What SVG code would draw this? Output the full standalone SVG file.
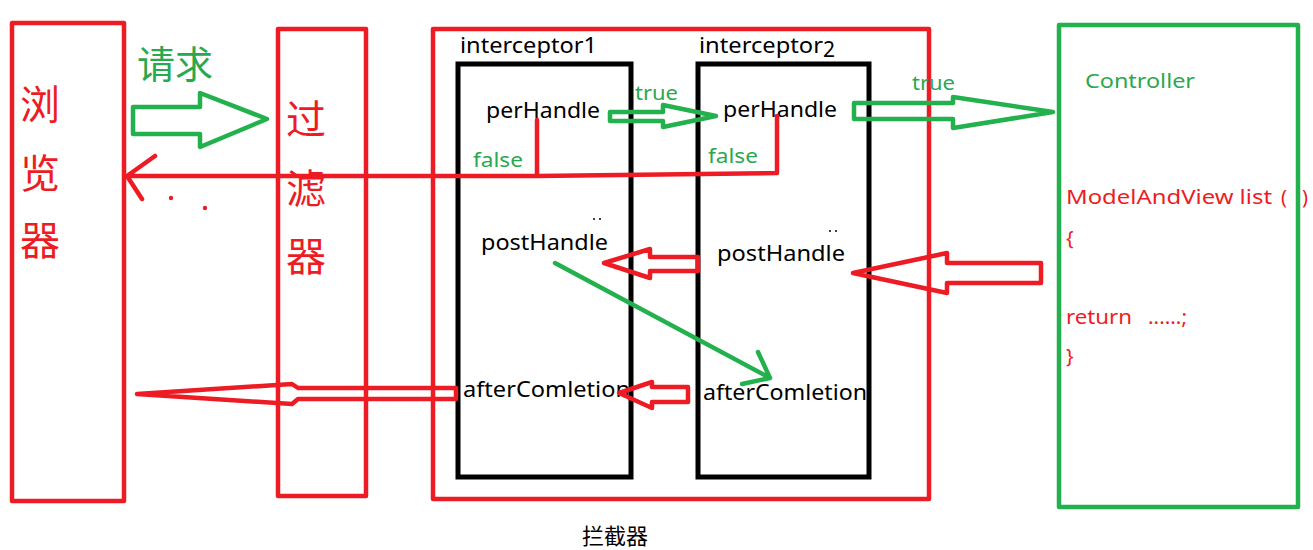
<svg xmlns="http://www.w3.org/2000/svg" width="1313" height="550" viewBox="0 0 1313 550">
<style>
.red{fill:none;stroke:#ED1C24;stroke-width:4.5;stroke-linejoin:round;stroke-linecap:round}
.grn{fill:none;stroke:#22B14C;stroke-width:4.5;stroke-linejoin:round;stroke-linecap:round}
.blk{fill:none;stroke:#000;stroke-width:5}
.t{font-family:"Noto Sans","Liberation Sans",sans-serif;font-size:21px;fill:#000}
.tg{font-family:"Noto Sans","Liberation Sans",sans-serif;font-size:20px;fill:#2aa84f}
.tr{font-family:"Noto Sans","Liberation Sans",sans-serif;font-size:20px;fill:#ED1C24}
.cjk{font-family:"Noto Sans CJK SC",sans-serif}
</style>
<rect width="1313" height="550" fill="#fff"/>
<g id="browser">
<rect class="red" x="12" y="23" width="112" height="478"/>
<text class="cjk" x="20" y="119" font-size="40" fill="#ED1C24">浏</text>
<text class="cjk" x="20" y="188" font-size="40" fill="#ED1C24">览</text>
<text class="cjk" x="20" y="255" font-size="40" fill="#ED1C24">器</text>
</g>
<g id="filter">
<rect class="red" x="278" y="29" width="88" height="467"/>
<text class="cjk" x="286" y="134" font-size="40" fill="#ED1C24">过</text>
<text class="cjk" x="286" y="203" font-size="40" fill="#ED1C24">滤</text>
<text class="cjk" x="286" y="271" font-size="40" fill="#ED1C24">器</text>
</g>
<g id="interceptors">
<rect class="red" x="433" y="29" width="496" height="470"/>
<text class="cjk" x="582" y="544" font-size="22" fill="#000">拦截器</text>
</g>
<g id="interceptor1">
<rect class="blk" x="458" y="64" width="173" height="413"/>
<text class="t" x="460" y="53" textLength="137" lengthAdjust="spacingAndGlyphs">interceptor1</text>
<text class="t" x="486" y="118" textLength="114" lengthAdjust="spacingAndGlyphs">perHandle</text>
<text class="t" x="481" y="250" textLength="127" lengthAdjust="spacingAndGlyphs">postHandle</text>
<text class="t" x="463" y="397" textLength="167" lengthAdjust="spacingAndGlyphs">afterComletion</text>
<circle cx="594" cy="219" r="1" fill="#000"/><circle cx="600" cy="219" r="1" fill="#000"/>
</g>
<g id="interceptor2">
<rect class="blk" x="698" y="64" width="171" height="413"/>
<text class="t" x="699" y="53"><tspan textLength="124" lengthAdjust="spacingAndGlyphs">interceptor</tspan><tspan dy="4">2</tspan></text>
<text class="t" x="723" y="117" textLength="114" lengthAdjust="spacingAndGlyphs">perHandle</text>
<text class="t" x="717" y="261" textLength="128" lengthAdjust="spacingAndGlyphs">postHandle</text>
<text class="t" x="703" y="400" textLength="164" lengthAdjust="spacingAndGlyphs">afterComletion</text>
<circle cx="830" cy="231" r="1" fill="#000"/><circle cx="836" cy="231" r="1" fill="#000"/>
</g>
<g id="controller">
<rect class="grn" x="1059" y="25" width="239" height="482"/>
<text class="tg" x="1085" y="88" textLength="110" lengthAdjust="spacingAndGlyphs">Controller</text>
<text class="tr" x="1066" y="204" font-size="21" textLength="206" lengthAdjust="spacingAndGlyphs">ModelAndView list</text>
<text class="tr" x="1281" y="204" font-size="21">(</text>
<text class="tr" x="1302" y="204" font-size="21">)</text>
<text class="tr" x="1066" y="245" font-size="21">{</text>
<text class="tr" x="1066" y="324" font-size="21" textLength="66" lengthAdjust="spacingAndGlyphs">return</text>
<text class="tr" x="1148" y="324" font-size="21" textLength="39" lengthAdjust="spacingAndGlyphs">......;</text>
<text class="tr" x="1066" y="363" font-size="21">}</text>
</g>
<g id="connectors">
<polygon class="grn" points="133,107 200,107 200,93 267,119 200,147 200,134 133,134"/>
<text class="cjk" x="137" y="78" font-size="38" fill="#2aa84f">请求</text>
<path class="red" d="M777,116 L777,173 L537,176 L537,120 M537,176 L127,176 M155,156 L127,176 L142,199"/>
<circle cx="171" cy="198" r="2.2" fill="#ED1C24"/>
<circle cx="205" cy="208" r="2.2" fill="#ED1C24"/>
<text class="tg" x="473" y="167" textLength="50" lengthAdjust="spacingAndGlyphs">false</text>
<text class="tg" x="708" y="163" textLength="50" lengthAdjust="spacingAndGlyphs">false</text>
<polygon class="grn" points="610,112 663,112 663,105 716,116 663,127 663,121 610,121"/>
<text class="tg" x="635" y="100" textLength="43" lengthAdjust="spacingAndGlyphs">true</text>
<polygon class="grn" points="854,103 953,103 953,97 1053,112 953,128 953,119 854,119"/>
<text class="tg" x="912" y="90" textLength="43" lengthAdjust="spacingAndGlyphs">true</text>
<polygon class="red" points="1041,263 947,263 947,253 853,273 947,293 947,283 1041,283"/>
<polygon class="red" points="698,257 650,257 650,249 604,263 650,278 650,271 698,271"/>
<path class="grn" d="M555,263 L770,378 M758,352 L770,378 L742,384"/>
<polygon class="red" points="688,387 652,387 652,382 619,393 652,408 652,402 688,402"/>
<polygon class="red" points="456,388 298,388 292,384 137,394 292,404 298,399 456,399"/>
</g>
</svg>
